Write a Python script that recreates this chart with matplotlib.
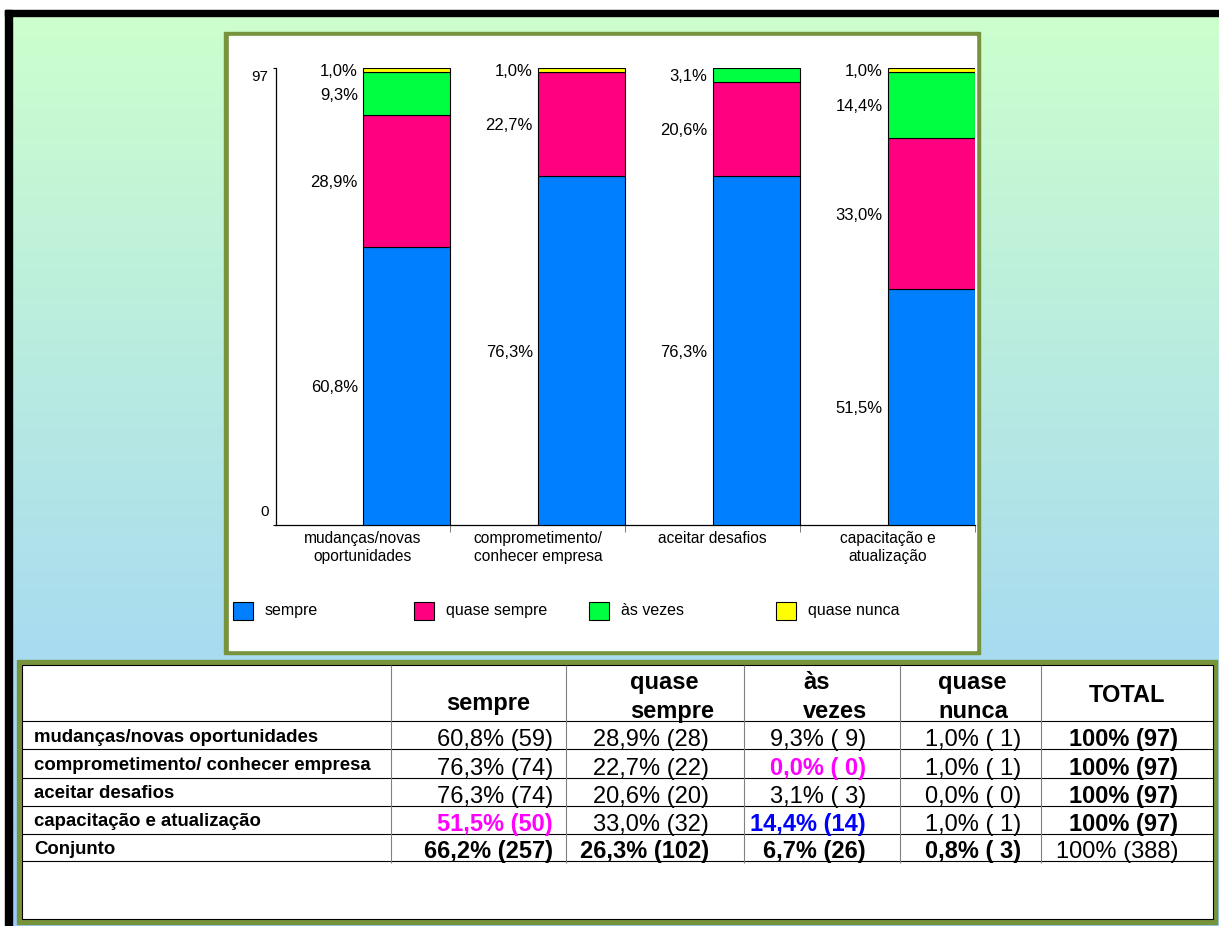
import matplotlib.pyplot as plt
import numpy as np
from matplotlib.patches import Rectangle
from matplotlib.colors import to_rgb

plt.rcParams['font.family'] = ['Liberation Sans', 'DejaVu Sans']

# Dados da pesquisa (contagens por item, 97 respondentes)
categorias = ["mudanças/novas\noportunidades", "comprometimento/\nconhecer empresa",
              "aceitar desafios", "capacitação e\natualização"]
itens_tabela = ["mudanças/novas oportunidades", "comprometimento/ conhecer empresa",
                "aceitar desafios", "capacitação e atualização"]
respostas = ["sempre", "quase sempre", "às vezes", "quase nunca"]
cabecalhos = ["sempre", "quase\nsempre", "às\nvezes", "quase\nnunca", "TOTAL"]

sempre = [59, 74, 74, 50]
quase_sempre = [28, 22, 20, 32]
as_vezes = [9, 0, 3, 14]
quase_nunca = [1, 1, 0, 1]
conjunto = [257, 102, 26, 3]
total_item = 97
total_geral = 388

cores = ["#0080FF", "#FF0080", "#00FF40", "#FFFF00"]
verde_oliva = "#77933C"

W, H = 1219, 926
fig = plt.figure(figsize=(W / 100, H / 100), dpi=100)

# fundo em pixels (y para baixo)
bg = fig.add_axes([0, 0, 1, 1])
bg.axis('off')
topo = np.array(to_rgb("#CCFFCC"))
base_cor = np.array(to_rgb("#99CCFF"))
t = np.linspace(0, 1, 256)[:, None, None]
grad = topo * (1 - t) + base_cor * t
bg.imshow(grad, extent=(11.5, W, H, 16), aspect='auto', origin='upper')
bg.add_patch(Rectangle((5, 10), W - 5, 6, color='black'))
bg.add_patch(Rectangle((5, 10), 6.5, H - 10, color='black'))

# moldura do gráfico
bg.add_patch(Rectangle((224, 31.7), 756, 622.6, color=verde_oliva))
bg.add_patch(Rectangle((228.7, 36), 747.3, 614, color='white'))

# moldura da tabela
bg.add_patch(Rectangle((17, 660), 1199.7, 264, color=verde_oliva))
bg.add_patch(Rectangle((21.7, 665), 1191, 254.3, fc='white', ec='black', lw=0.8))
bg.set_xlim(0, W)
bg.set_ylim(H, 0)

# ---- gráfico de barras empilhadas ----
ax = fig.add_axes([275.5 / W, 1 - 525 / H, (975 - 275.5) / W, (525 - 67.7) / H])
ax.set_facecolor('none')
ax.set_xlim(0, 4)
ax.set_ylim(0, total_item)

series = [sempre, quase_sempre, as_vezes, quase_nunca]
x = np.arange(len(categorias)) + 0.75
acum = np.zeros(len(categorias))
for vals, cor in zip(series, cores):
    vals = np.array(vals, dtype=float)
    m = vals > 0
    ax.bar(x[m], vals[m], 0.5, bottom=acum[m], color=cor,
           edgecolor='black', linewidth=0.8, zorder=3)
    for xi, b, v in zip(x[m], acum[m], vals[m]):
        rot = f"{v / total_item * 100:.1f}%".replace('.', ',')
        ax.annotate(rot, xy=(xi - 0.25, b + v / 2), xytext=(-5, 0),
                    textcoords='offset pixels', ha='right',
                    va='center_baseline', fontsize=12)
    acum += vals

for s in ['top', 'right']:
    ax.spines[s].set_visible(False)
ax.spines['left'].set_linewidth(0.9)
ax.spines['bottom'].set_linewidth(0.9)

ax.set_xticks(np.arange(len(categorias)) + 0.5)
ax.set_xticklabels(categorias, fontsize=11.2, linespacing=1.3)
ax.tick_params(axis='x', which='major', length=0, pad=4)
ax.set_xticks(np.arange(1, len(categorias) + 1), minor=True)
ax.tick_params(axis='x', which='minor', length=5, direction='out', color='#666666')

ax.set_yticks([0, total_item])
ax.set_yticklabels([])
ax.tick_params(axis='y', length=2.2, direction='out')
for val, dy in [(0, 15), (total_item, -8)]:
    ax.annotate(str(val), xy=(0, val), xycoords=('axes fraction', 'data'),
                xytext=(-7, dy), textcoords='offset pixels', ha='right',
                va='center_baseline', fontsize=11)

# legenda
leg_x = [233, 414, 589, 776]
for lx, cor, nome in zip(leg_x, cores, respostas):
    bg.add_patch(Rectangle((lx, 602), 20, 18, fc=cor, ec='black', lw=0.8))
    bg.text(lx + 32, 615, nome, ha='left', va='baseline', fontsize=11.5)

# ---- tabela ----
linhas_y = [721, 749.3, 777.7, 805.7, 833.7, 861.3]
bg.hlines(linhas_y, 21.7, 1212.7, color='black', lw=0.8)
bg.vlines([391, 566, 744, 900, 1040.7], 665, 863, color='#808080', lw=0.8)

# cabeçalhos
cab_x = [488, 630, 803, 938, 1089]
cab_ha = ['center', 'left', 'left', 'left', 'left']
for txt, cx, ha in zip(cabecalhos, cab_x, cab_ha):
    partes = txt.split('\n')
    if len(partes) == 2:
        ys = [689.3, 717.7]
    else:
        ys = [701.7] if txt == "TOTAL" else [710]
    for p, yy in zip(partes, ys):
        bg.text(cx, yy, p, ha=ha, va='baseline', fontsize=17, fontweight='bold')


def fmt(n, total):
    return f"{n / total * 100:.1f}".replace('.', ',') + f"% ({n:2d})"


destaques = {(3, 0): '#FF00FF', (1, 2): '#FF00FF', (3, 2): '#0000FF'}
col_dir = [553, 709, 866, 1021, 1178]
dados = list(zip(sempre, quase_sempre, as_vezes, quase_nunca))

for i, nome in enumerate(itens_tabela + ["Conjunto"]):
    inferior = linhas_y[i + 1]
    bg.text(34, inferior - 7.8, nome, ha='left', va='baseline',
            fontsize=13.4, fontweight='bold')
    if i < len(itens_tabela):
        valores = [fmt(n, total_item) for n in dados[i]]
        valores.append(f"100% ({total_item})")
        pesos = ['normal'] * 4 + ['bold']
    else:
        valores = [fmt(n, total_geral) for n in conjunto]
        valores.append(f"100% ({total_geral})")
        pesos = ['bold'] * 4 + ['normal']
    for j, (v, peso) in enumerate(zip(valores, pesos)):
        cor = destaques.get((i, j), 'black')
        if (i, j) in destaques:
            peso = 'bold'
        bg.text(col_dir[j], inferior - 3, v, ha='right', va='baseline',
                fontsize=17, fontweight=peso, color=cor)

fig.savefig('out.png', dpi=100)
plt.close(fig)
